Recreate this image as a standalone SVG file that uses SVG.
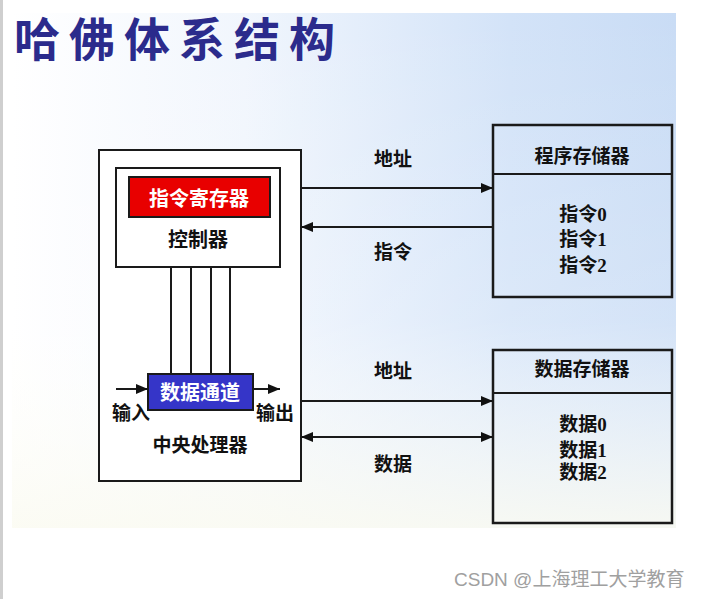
<svg xmlns="http://www.w3.org/2000/svg" width="701" height="599" viewBox="0 0 701 599">
<defs>
<linearGradient id="bgH" x1="0" y1="0" x2="1" y2="0">
<stop offset="0" stop-color="#ffffff"/>
<stop offset="0.35" stop-color="#f1f6fd"/>
<stop offset="0.75" stop-color="#d3e3f8"/>
<stop offset="1" stop-color="#c9dcf5"/>
</linearGradient>
<linearGradient id="bgV" x1="0" y1="0" x2="0" y2="1">
<stop offset="0" stop-color="#ffffff" stop-opacity="0"/>
<stop offset="0.6" stop-color="#ffffff" stop-opacity="0.2"/>
<stop offset="1" stop-color="#fbfbf2" stop-opacity="0.9"/>
</linearGradient>
<marker id="ah" viewBox="0 0 12 10" refX="12" refY="5" markerWidth="12" markerHeight="10" markerUnits="userSpaceOnUse" orient="auto-start-reverse">
<path d="M0,0 L12,5 L0,10 z" fill="#111"/>
</marker>
<style>
.box{fill:#fff;stroke:#1a1a1a;stroke-width:2}
.mem{fill:none;stroke:#1a1a1a;stroke-width:2.5}
.ln{stroke:#1a1a1a;stroke-width:2;fill:none}
.t{font-family:"Noto Sans CJK SC","Noto Sans",sans-serif;font-weight:bold;fill:#111;text-anchor:middle}
.m{font-family:"Liberation Serif","Noto Sans CJK SC",serif;font-weight:bold;fill:#111;text-anchor:middle;font-size:19px}
</style>
</defs>
<rect x="0" y="0" width="701" height="599" fill="#ffffff"/>
<rect x="0" y="0" width="3" height="599" fill="#cfcfcf"/>
<rect x="12" y="13" width="664" height="515" fill="url(#bgH)"/>
<rect x="12" y="13" width="664" height="515" fill="url(#bgV)"/>
<text x="14" y="56" font-family="Noto Sans CJK SC,sans-serif" font-size="46" font-weight="bold" fill="#2b2b8c" letter-spacing="9">哈佛体系结构</text>

<g id="cpu">
<rect x="99" y="150" width="202" height="331" class="box"/>
<text x="200" y="452" class="t" font-size="19">中央处理器</text>
</g>
<g id="controller">
<rect x="116" y="168" width="164" height="99" class="box"/>
<text x="198" y="247" class="t" font-size="20">控制器</text>
</g>
<g id="ir">
<rect x="129" y="177" width="141" height="40" fill="#e80000" stroke="#1a1a1a" stroke-width="2"/>
<text x="199" y="206" class="t" font-size="20" style="fill:#fff">指令寄存器</text>
</g>
<g id="datapath">
<rect x="148" y="374" width="105" height="36" fill="#3535c8" stroke="#1a1a1a" stroke-width="2"/>
<text x="200" y="400" class="t" font-size="20" style="fill:#fff">数据通道</text>
</g>
<g id="pmem">
<rect x="493" y="125" width="179" height="172" class="mem"/>
<line x1="493" y1="174" x2="672" y2="174" class="ln"/>
<text x="582" y="163" class="t" font-size="19">程序存储器</text>
<text x="583" y="221" class="m">指令0</text>
<text x="583" y="246" class="m">指令1</text>
<text x="583" y="272" class="m">指令2</text>
</g>
<g id="dmem">
<rect x="493" y="350" width="179" height="173" class="mem"/>
<line x1="493" y1="393" x2="672" y2="393" class="ln"/>
<text x="582" y="376" class="t" font-size="19">数据存储器</text>
<text x="583" y="431" class="m">数据0</text>
<text x="583" y="457" class="m">数据1</text>
<text x="583" y="479" class="m">数据2</text>
</g>

<g id="connectors">
<line x1="171" y1="267" x2="171" y2="374" class="ln"/>
<line x1="191" y1="267" x2="191" y2="374" class="ln"/>
<line x1="211" y1="267" x2="211" y2="374" class="ln"/>
<line x1="230" y1="267" x2="230" y2="374" class="ln"/>
<line x1="116" y1="389" x2="148" y2="389" class="ln" marker-end="url(#ah)"/>
<line x1="253" y1="389" x2="280" y2="389" class="ln" marker-end="url(#ah)"/>
<text x="131" y="420" class="t" font-size="19">输入</text>
<text x="275" y="420" class="t" font-size="19">输出</text>

<line x1="301" y1="188" x2="493" y2="188" class="ln" marker-end="url(#ah)"/>
<text x="393" y="166" class="t" font-size="19">地址</text>
<line x1="493" y1="227" x2="301" y2="227" class="ln" marker-end="url(#ah)"/>
<text x="393" y="259" class="t" font-size="19">指令</text>

<line x1="301" y1="401" x2="493" y2="401" class="ln" marker-end="url(#ah)"/>
<text x="393" y="378" class="t" font-size="19">地址</text>
<line x1="301" y1="437" x2="493" y2="437" class="ln" marker-start="url(#ah)" marker-end="url(#ah)"/>
<text x="393" y="471" class="t" font-size="19">数据</text>
</g>

<text x="454" y="586" font-family="Liberation Sans,Noto Sans CJK SC,sans-serif" font-size="19" fill="#a0a0a0">CSDN @上海理工大学教育</text>
</svg>
